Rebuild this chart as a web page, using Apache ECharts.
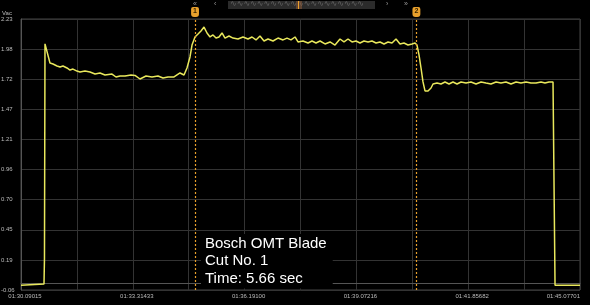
<!DOCTYPE html>
<html><head><meta charset="utf-8">
<script src="https://cdn.jsdelivr.net/npm/echarts@6/dist/echarts.min.js"></script>
<style>html,body{margin:0;padding:0;background:#000}#c{width:590px;height:305px}</style>
</head><body><div id="c"></div>
<script>
// ---- data (time in seconds from the first label, voltage in Vac) ----
const timeSec = [0,0.617,0.630,0.644,0.778,0.859,0.966,1.047,1.127,1.234,1.315,1.395,1.503,1.583,1.717,1.852,1.986,2.12,2.254,2.442,2.549,2.657,2.791,2.952,3.059,3.193,3.354,3.515,3.676,3.81,3.945,4.106,4.267,4.374,4.454,4.535,4.589,4.669,4.75,4.83,4.911,4.991,5.072,5.152,5.233,5.313,5.394,5.474,5.581,5.689,5.823,5.957,6.091,6.199,6.306,6.413,6.521,6.628,6.762,6.896,7.031,7.138,7.245,7.353,7.433,7.567,7.701,7.809,7.916,8.024,8.158,8.292,8.426,8.56,8.667,8.775,8.882,8.989,9.097,9.204,9.311,9.419,9.526,9.634,9.741,9.848,9.955,10.063,10.17,10.277,10.385,10.492,10.573,10.626,10.68,10.734,10.787,10.841,10.922,11.002,11.056,11.163,11.27,11.378,11.485,11.592,11.7,11.807,11.941,12.075,12.21,12.344,12.478,12.612,12.746,12.88,13.014,13.149,13.283,13.417,13.551,13.685,13.819,13.954,14.061,14.168,14.276,14.316,14.33,15];
const voltage = [-0.02,-0.01,0.21,2.02,1.858,1.85,1.833,1.824,1.833,1.816,1.799,1.807,1.79,1.782,1.79,1.782,1.765,1.774,1.757,1.765,1.74,1.748,1.748,1.757,1.753,1.723,1.748,1.74,1.748,1.731,1.74,1.74,1.774,1.757,1.816,1.909,2.01,2.078,2.103,2.129,2.162,2.112,2.078,2.095,2.069,2.078,2.112,2.069,2.086,2.069,2.061,2.078,2.061,2.078,2.053,2.086,2.044,2.061,2.044,2.069,2.053,2.069,2.053,2.078,2.036,2.044,2.027,2.044,2.027,2.044,2.019,2.036,2.01,2.061,2.036,2.061,2.036,2.044,2.027,2.044,2.036,2.044,2.027,2.036,2.019,2.036,2.027,2.061,2.019,2.027,2.01,2.019,2.027,2.01,1.926,1.816,1.698,1.622,1.622,1.647,1.681,1.689,1.681,1.698,1.681,1.698,1.681,1.698,1.689,1.698,1.681,1.698,1.689,1.681,1.698,1.689,1.698,1.681,1.698,1.689,1.698,1.689,1.689,1.698,1.689,1.698,1.698,1.698,-0.02,-0.02];
const xTickLabels = ['01:30.09015','01:33.31433','01:36.19100','01:39.07216','01:41.85682','01:45.07701'];
const yTickLabels = ['-0.06','0.19','0.45','0.70','0.96','1.21','1.47','1.72','1.98','2.23'];
const cursorTimes = [4.669, 10.613];
const cursorNames = ['1','2'];
const noteLines = ['Bosch OMT Blade','Cut No. 1','Time: 5.66 sec'];

const yMin = -0.06, yMax = 2.23;
const yStep = (yMax - yMin) / (yTickLabels.length - 1);
const yTicks = yTickLabels.map((_, i) => yMin + i * yStep);
const xMax = 15, xStep = 1.5;

const chart = echarts.init(document.getElementById('c'));
const lineColor = '#e9e85c';
const cursorColor = '#e8a02c';
const font = 'Liberation Sans, Arial, sans-serif';

chart.setOption({
  backgroundColor: '#000',
  animation: false,
  grid: {left: 21, right: 10, top: 19, bottom: 15, containLabel: false, outerBoundsMode: 'none',
         show: true, borderColor: '#444', borderWidth: 1},
  xAxis: {
    type: 'value', min: 0, max: xMax, interval: xStep,
    name: 'Time (sec)', nameLocation: 'middle', nameGap: 9,
    nameTextStyle: {color: '#aaa', fontSize: 6, fontFamily: font, padding: [0,0,0,10]},
    axisLine: {show: true, lineStyle: {color: '#555'}},
    axisTick: {show: false},
    splitLine: {show: true, lineStyle: {color: '#333', width: 1}},
    axisLabel: {
      color: '#bbb', fontSize: 6, fontFamily: font, margin: 3, padding: [0,0,0,8],
      alignMaxLabel: 'right',
      formatter: v => { const i = Math.round(v / xStep); return i % 2 === 0 ? xTickLabels[i / 2] : ''; }
    }
  },
  yAxis: {
    type: 'value', min: yMin, max: yMax,
    name: 'Vac', nameLocation: 'end', nameGap: 3,
    nameTextStyle: {color: '#bbb', fontSize: 6, fontFamily: font, align: 'left', padding: [0,0,0,-19]},
    axisLine: {show: true, lineStyle: {color: '#555'}},
    axisTick: {show: false, customValues: yTicks},
    splitLine: {show: true, lineStyle: {color: '#333', width: 1}},
    axisLabel: {
      customValues: yTicks, color: '#bbb', fontSize: 6, fontFamily: font, align: 'left', margin: 20,
      formatter: v => yTickLabels[Math.round((v - yMin) / yStep)]
    }
  },
  series: [{
    type: 'line', showSymbol: false, smooth: false,
    data: timeSec.map((t, i) => [t, voltage[i]]),
    lineStyle: {color: lineColor, width: 1.5},
    markLine: {
      silent: true, symbol: 'none',
      lineStyle: {color: cursorColor, type: [2, 2], width: 1.2, opacity: 1},
      emphasis: {disabled: true},
      label: {
        show: true, position: 'end', distance: 2,
        color: '#3a2500', fontSize: 7, fontWeight: 'bold', fontFamily: font,
        backgroundColor: cursorColor, borderRadius: [2,2,3,3], padding: [1,2,2,2],
        formatter: p => p.name
      },
      data: cursorTimes.map((t, i) => ({xAxis: t, name: cursorNames[i], lineStyle: {color: cursorColor}}))
    }
  }],
  graphic: [
    {type: 'text', left: 193, top: 1, style: {text: '«', fill: '#999', fontSize: 7, fontFamily: font}},
    {type: 'text', left: 214, top: 1, style: {text: '‹', fill: '#999', fontSize: 7, fontFamily: font}},
    {type: 'rect', shape: {x: 228, y: 1, width: 147, height: 8}, style: {fill: '#2b2b2b'}},
    {type: 'text', left: 230, top: 0, style: {text: '∿∿∿∿∿∿∿∿∿∿∿∿∿∿∿∿∿∿∿∿', fill: '#666', fontSize: 8, fontFamily: 'DejaVu Sans'}},
    {type: 'rect', shape: {x: 296, y: 1, width: 6, height: 8}, style: {fill: 'rgba(160,100,60,0.45)'}},
    {type: 'rect', shape: {x: 298, y: 1, width: 1, height: 8}, style: {fill: '#e8a02c'}},
    {type: 'text', left: 386, top: 1, style: {text: '›', fill: '#999', fontSize: 7, fontFamily: font}},
    {type: 'text', left: 404, top: 1, style: {text: '»', fill: '#999', fontSize: 7, fontFamily: font}},
    {type: 'text', left: 201, top: 234, z: 10, style: {text: noteLines.join('\n'), fill: '#fff', fontSize: 15, lineHeight: 17.5, fontFamily: font,
      backgroundColor: '#000', padding: [1, 6, 1, 4]}}
  ]
});
</script></body></html>
